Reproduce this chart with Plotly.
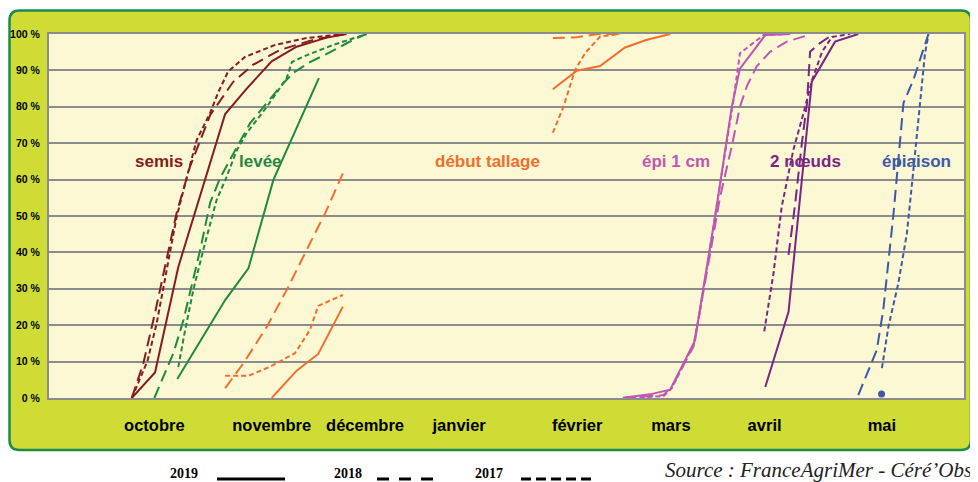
import plotly.graph_objects as go

# ---------------- data (x = days since 1 September, y = % of fields) ----------------
months = ["octobre", "novembre", "décembre", "janvier", "février", "mars", "avril", "mai"]
month_pos = [30.8, 65.1, 92.4, 119.9, 154.4, 181.8, 209.2, 243.5]
y_ticks = [0, 10, 20, 30, 40, 50, 60, 70, 80, 90, 100]
y_labels = [f"{v} %" for v in y_ticks]

semis_2019_x = [24.2, 31.0, 37.8, 51.5, 57.8, 65.1, 72.4, 81.2, 87.0]
semis_2019_y = [0, 7, 36, 78, 85, 92.5, 96.5, 99, 100]
semis_2018_x = [24.2, 27.6, 31.0, 37.3, 41.2, 47.1, 53.8, 59.6, 67.5, 77.2, 86.5]
semis_2018_y = [0, 9.6, 23.4, 50.8, 63.5, 77.7, 86.8, 91.5, 95.6, 98.4, 100]
semis_2017_x = [24.2, 28.8, 31.5, 35.4, 37.3, 40.3, 43.2, 47.1, 49.4, 52.3, 57.3, 66.1, 75.4, 86.5]
semis_2017_y = [0, 10.2, 20.6, 39.8, 49.7, 60.7, 70.9, 78.3, 83.8, 89.6, 93.7, 97, 98.9, 100]

levee_2019_x = [37.5, 51.5, 58.3, 65.6, 78.9]
levee_2019_y = [5.2, 26.9, 35.6, 59.9, 87.9]
levee_2018_x = [30.8, 36.4, 39.3, 44.2, 47.1, 50.0, 54.9, 58.8, 63.2, 68.0, 71.4, 76.3, 82.2, 88.9, 92.7]
levee_2018_y = [0, 12.4, 21.4, 40.7, 53.6, 60.4, 68.9, 75.5, 80.5, 86, 89.3, 92.3, 95, 98.4, 100]
levee_2017_x = [37.8, 39.8, 42.2, 45.1, 49.0, 51.9, 54.9, 57.8, 63.7, 69.5, 71.0, 75.4, 83.1, 92.9]
levee_2017_y = [8.5, 18.7, 29.7, 40.7, 54.4, 60.7, 68.1, 72.8, 80, 87.9, 92.3, 94.2, 97, 100]

tallage_2019_x = [65.1, 72.4, 78.7, 85.9, None, 147.3, 154.3, 161.1, 168.4, 174.8, 181.6]
tallage_2019_y = [0, 7.5, 12.1, 25.1, None, 84.8, 89.9, 91.2, 96.3, 98.4, 100]
tallage_2018_x = [51.5, 56.8, 63.7, 69.5, 76.3, 80.7, 85.9, None, 147.3, 154.3, 160.5, 166.9]
tallage_2018_y = [2.7, 9.5, 19.6, 29.7, 42.5, 50.7, 61.7, None, 98.9, 99.1, 100, 100]
tallage_2017_x = [51.5, 58.3, 64.6, 71.9, 76.3, 78.7, 85.9, None, 147.3, 150.4, 153.8, 156.7, 161.1, 164.0, 166.9]
tallage_2017_y = [6.1, 6.1, 8.6, 12.3, 18.7, 25.3, 28.3, None, 72.9, 80, 90.1, 94.7, 99.3, 99.7, 100]

epi_2019_x = [167.8, 175.7, 181.6, 188.9, 190.4, 194.7, 199.6, 202.0, 209.4, 216.7]
epi_2019_y = [0.1, 1, 2.3, 15.9, 25, 49.7, 79.9, 90.5, 99.7, 100]
epi_2018_x = [167.9, 179.6, 182.1, 188.4, 193.3, 196.2, 199.6, 202.0, 204.0, 206.9, 210.8, 215.7, 222.0]
epi_2018_y = [0, 0.8, 3.1, 14.1, 39.7, 55.3, 69.1, 80, 85.6, 91.1, 95.1, 97.9, 99.7]
epi_2017_x = [167.9, 179.6, 182.1, 188.4, 190.4, 194.2, 197.2, 200.1, 202.0, 208.9, 215.7]
epi_2017_y = [0, 0.5, 2.7, 14.6, 24.2, 47, 65.4, 81.9, 94.7, 99.7, 100]

noeuds_2019_x = [209.4, 216.2, 223.0, 229.8, 236.6]
noeuds_2019_y = [3, 23.7, 86.9, 97.9, 100]
noeuds_2018_x = [216.2, 218.1, 220.1, 221.6, 222.5, 225.4, 228.9]
noeuds_2018_y = [39.3, 53, 70, 81, 95.1, 97.5, 99.7]
noeuds_2017_x = [209.1, 211.8, 214.2, 217.6, 220.6, 223.1, 226.0, 228.9, 234.2]
noeuds_2017_y = [18.3, 34.2, 52.5, 68.1, 78.3, 87.4, 95.1, 99.2, 100]

epiaison_2019_x = [243.4]
epiaison_2019_y = [1.1]
epiaison_2018_x = [236.6, 242.0, 243.9, 246.9, 249.8, 252.7, 257.1]
epiaison_2018_y = [0.8, 13.2, 24.2, 50.7, 81, 87.4, 100]
epiaison_2017_x = [243.5, 245.4, 248.3, 250.8, 252.7, 254.7, 256.1, 257.1]
epiaison_2017_y = [8.2, 19.6, 31.5, 45.2, 62.6, 81.9, 94.7, 99.7]

stage_names = ["semis", "levée", "début tallage", "épi 1 cm", "2 nœuds", "épiaison"]
stage_label_x = [32.2, 61.7, 128.2, 183.3, 221.3, 253.7]
stage_label_y = [65, 65, 65, 65, 65, 65]

# ---------------- styles ----------------
COL = {
    "semis": "#861c20",
    "levée": "#1f8a3f",
    "début tallage": "#f36e2b",
    "épi 1 cm": "#c056b3",
    "2 nœuds": "#7b2584",
    "épiaison": "#3b5aa8",
}
DASH = {"2019": "solid", "2018": "12px,6px", "2017": "5px,3px"}
SANS = "Liberation Sans, Arial, sans-serif"
SERIF = "Liberation Serif, Times New Roman, serif"

series = [
    ("semis", "2019", semis_2019_x, semis_2019_y),
    ("semis", "2018", semis_2018_x, semis_2018_y),
    ("semis", "2017", semis_2017_x, semis_2017_y),
    ("levée", "2019", levee_2019_x, levee_2019_y),
    ("levée", "2018", levee_2018_x, levee_2018_y),
    ("levée", "2017", levee_2017_x, levee_2017_y),
    ("début tallage", "2019", tallage_2019_x, tallage_2019_y),
    ("début tallage", "2018", tallage_2018_x, tallage_2018_y),
    ("début tallage", "2017", tallage_2017_x, tallage_2017_y),
    ("épi 1 cm", "2019", epi_2019_x, epi_2019_y),
    ("épi 1 cm", "2018", epi_2018_x, epi_2018_y),
    ("épi 1 cm", "2017", epi_2017_x, epi_2017_y),
    ("2 nœuds", "2019", noeuds_2019_x, noeuds_2019_y),
    ("2 nœuds", "2018", noeuds_2018_x, noeuds_2018_y),
    ("2 nœuds", "2017", noeuds_2017_x, noeuds_2017_y),
    ("épiaison", "2018", epiaison_2018_x, epiaison_2018_y),
    ("épiaison", "2017", epiaison_2017_x, epiaison_2017_y),
]

fig = go.Figure()
for stage, year, xs, ys in series:
    fig.add_trace(go.Scatter(
        x=xs, y=ys, mode="lines", name=f"{stage} {year}",
        line=dict(color=COL[stage], width=2, dash=DASH[year]),
        connectgaps=False, hoverinfo="skip"))
fig.add_trace(go.Scatter(
    x=epiaison_2019_x, y=epiaison_2019_y, mode="markers", name="épiaison 2019",
    marker=dict(color=COL["épiaison"], size=7), hoverinfo="skip"))

for name, lx, ly in zip(stage_names, stage_label_x, stage_label_y):
    fig.add_annotation(x=lx, y=ly, text=name, showarrow=False,
                       font=dict(family=SANS, size=17, color=COL[name], weight="bold"))

# ---------------- layout geometry ----------------
# The page adds an 8 px body margin, so the figure is drawn 8 px smaller
# and all page positions below are given in page pixels.
OFF = 8
W, H = 978 - OFF, 482 - OFF
PL, PR, PT, PB = 49, 964, 34, 398          # plot area edges on the page
PW, PH = PR - PL, PB - PT


def px(xp):
    return (xp - PL) / PW


def py(yp):
    return (PB - yp) / PH


x0, x1, y0, y1 = px(9.5), px(971), py(450), py(10.5)
rx, ry = 10 / PW, 10 / PH
frame = (f"M {x0+rx},{y1} L {x1-rx},{y1} Q {x1},{y1} {x1},{y1-ry} "
         f"L {x1},{y0+ry} Q {x1},{y0} {x1-rx},{y0} L {x0+rx},{y0} "
         f"Q {x0},{y0} {x0},{y0+ry} L {x0},{y1-ry} Q {x0},{y1} {x0+rx},{y1} Z")
fig.add_shape(type="path", path=frame, xref="paper", yref="paper", layer="below",
              fillcolor="#cedc35", line=dict(color="#1d8a4b", width=2.5))
# plot area background (drawn above the frame)
fig.add_shape(type="rect", xref="paper", yref="paper", x0=0, x1=1, y0=0, y1=1,
              layer="below", fillcolor="#fbf8d3", line=dict(width=0))

# bottom legend
legend_items = [("2019", 184, 217, 285, "solid"),
                ("2018", 348, 377, 433, "12px,10px"),
                ("2017", 489, 521, 594, "10px,5px")]
for label, tx, lx0, lx1, dash in legend_items:
    fig.add_annotation(x=px(tx), y=py(483), xref="paper", yref="paper", text=label,
                       showarrow=False, xanchor="center", yanchor="bottom",
                       font=dict(family=SERIF, size=14, color="black", weight="bold"))
    fig.add_shape(type="line", xref="paper", yref="paper", x0=px(lx0), x1=px(lx1),
                  y0=py(479), y1=py(479), line=dict(color="black", width=3, dash=dash))
fig.add_annotation(x=px(818), y=py(484), xref="paper", yref="paper",
                   text="<i>Source : FranceAgriMer - Céré’Obs</i>", showarrow=False,
                   xanchor="center", yanchor="bottom",
                   font=dict(family=SERIF, size=21, color="#222222"))

fig.update_layout(
    width=W, height=H,
    margin=dict(l=PL - OFF, r=W - (PR - OFF), t=PT - OFF, b=H - (PB - OFF), autoexpand=False),
    paper_bgcolor="white", plot_bgcolor="#fbf8d3", showlegend=False,
    xaxis=dict(range=[0, 267.5], tickmode="array", tickvals=month_pos, ticktext=months,
               showgrid=False, zeroline=False, showline=True, mirror=True,
               linecolor="#8c8c8c", linewidth=2, ticks="", ticklabelstandoff=11,
               tickangle=0, automargin=False,
               tickfont=dict(family=SANS, size=16.5, color="black", weight="bold")),
    yaxis=dict(range=[0, 100], tickmode="array", tickvals=y_ticks, ticktext=y_labels,
               showgrid=True, gridcolor="#8c8c8c", gridwidth=2, zeroline=False,
               showline=True, mirror=True, linecolor="#8c8c8c", linewidth=2,
               ticks="", ticklabelstandoff=5, automargin=False,
               tickfont=dict(family=SANS, size=10.5, color="black", weight="bold")),
)

fig.write_html("out.html")
